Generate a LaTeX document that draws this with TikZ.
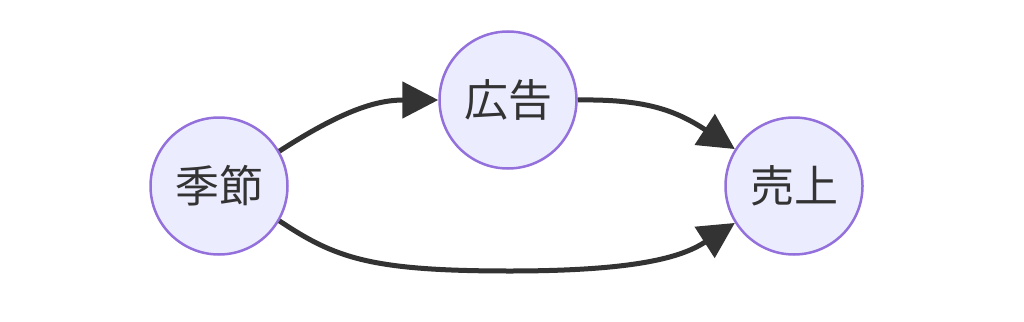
\documentclass[tikz,border=0pt]{standalone}
\usepackage{fontspec}
\newfontfamily\cjk{Noto Sans CJK JP}
\usetikzlibrary{arrows.meta}
\definecolor{nodefill}{HTML}{ECECFF}
\definecolor{nodeline}{HTML}{9370DB}
\definecolor{edgecol}{HTML}{333333}
\begin{document}
\begin{tikzpicture}[x=1pt,y=-1pt,
  vnode/.style={circle,draw=nodeline,fill=nodefill,line width=2.5pt,minimum size=137pt,inner sep=0pt,
    text=edgecol,font=\cjk\fontsize{44}{48}\selectfont},
  edge/.style={draw=edgecol,line width=5pt,-{Triangle[length=36pt,width=36pt]}}]
\useasboundingbox (0,0) rectangle (1024,321);
\node[vnode] (a) at (219,186) {季節};
\node[vnode] (b) at (508,100) {広告};
\node[vnode] (c) at (794,186) {売上};
\draw[edge] (a.30) .. controls (340,112) and (375,100) .. (b.180);
\draw[edge] (b.0) .. controls (645,99) and (675,110) .. (c.148);
\draw[edge] (a.-30) .. controls (335,258) and (370,271) .. (510,271) .. controls (645,271) and (685,255) .. (c.212);
\end{tikzpicture}
\end{document}
